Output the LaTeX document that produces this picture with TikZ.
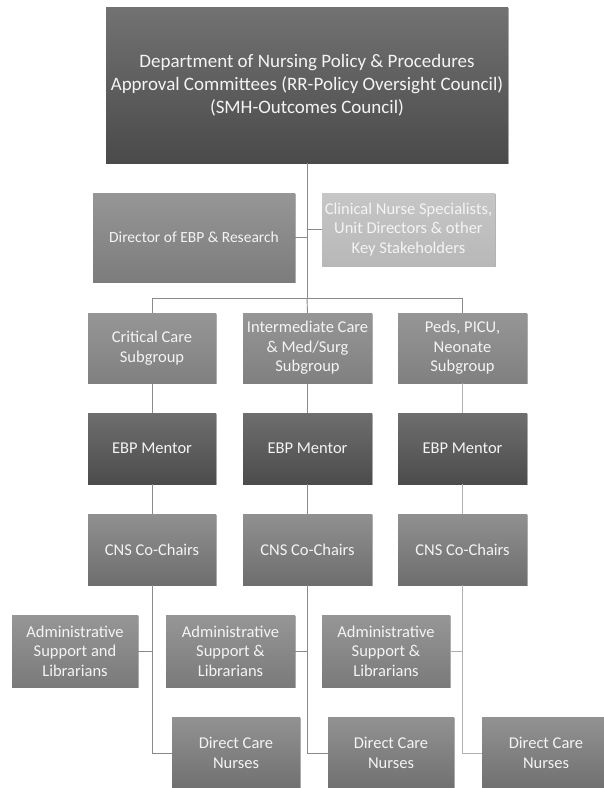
\documentclass[tikz,border=0pt]{standalone}
\usepackage{fontspec}
\setmainfont{Carlito}
\usetikzlibrary{shadows}

\definecolor{linkgray}{HTML}{8A8A8A}
\definecolor{linklight}{HTML}{B0B0B0}
\definecolor{boxtext}{HTML}{F4F4F4}

\tikzset{
  orgbox/.style={draw=none, inner sep=2pt, align=center, text=boxtext,
    font=\fontsize{16.5}{19.5}\selectfont,
    drop shadow={shadow xshift=1.2pt, shadow yshift=-1.2pt, opacity=0.3, fill=black}},
  topbox/.style={orgbox, top color={rgb,255:red,114;green,114;blue,114},
    bottom color={rgb,255:red,74;green,74;blue,74},
    font=\fontsize{19}{23}\selectfont},
  dirbox/.style={orgbox, top color={rgb,255:red,150;green,150;blue,150},
    bottom color={rgb,255:red,124;green,124;blue,124},
    font=\fontsize{15.5}{19.5}\selectfont},
  stakebox/.style={orgbox, top color={rgb,255:red,198;green,198;blue,198},
    bottom color={rgb,255:red,184;green,184;blue,184}},
  subbox/.style={orgbox, top color={rgb,255:red,150;green,150;blue,150},
    bottom color={rgb,255:red,128;green,128;blue,128}},
  mentorbox/.style={orgbox, top color={rgb,255:red,110;green,110;blue,110},
    bottom color={rgb,255:red,76;green,76;blue,76}},
  chairbox/.style={orgbox, top color={rgb,255:red,144;green,144;blue,144},
    bottom color={rgb,255:red,110;green,110;blue,110}},
  adminbox/.style={orgbox, top color={rgb,255:red,150;green,150;blue,150},
    bottom color={rgb,255:red,122;green,122;blue,122}},
  nursebox/.style={orgbox, top color={rgb,255:red,146;green,146;blue,146},
    bottom color={rgb,255:red,112;green,112;blue,112}},
  link/.style={draw=linkgray, line width=0.9pt},
  linkpale/.style={draw=linklight, line width=0.9pt}
}

\begin{document}
\begin{tikzpicture}[x=1pt, y=-1pt]
  \useasboundingbox (0,0) rectangle (604,788);
  \fill[white] (0,0) rectangle (604,788);
  \clip (0,0) rectangle (604,788);

  % committee at the top
  \node[topbox, minimum width=402pt, minimum height=156pt] (top) at (307,85)
    {Department of Nursing Policy \& Procedures\\
     Approval Committees (RR-Policy Oversight Council)\\
     (SMH-Outcomes Council)};

  % advisory level
  \node[dirbox, minimum width=202pt, minimum height=89pt] (dir) at (194,237.5)
    {Director of EBP \& Research};
  \node[stakebox, minimum width=173pt, minimum height=73pt] (stake) at (408.5,229.5)
    {Clinical Nurse Specialists,\\Unit Directors \& other\\Key Stakeholders};

  % subgroups
  \node[subbox, minimum width=128pt, minimum height=70pt] (sub1) at (152,348)
    {Critical Care\\Subgroup};
  \node[subbox, minimum width=129pt, minimum height=70pt] (sub2) at (307.5,348)
    {Intermediate Care\\\& Med/Surg\\Subgroup};
  \node[subbox, minimum width=129pt, minimum height=70pt] (sub3) at (462.5,348)
    {Peds, PICU,\\Neonate\\Subgroup};

  % mentors
  \node[mentorbox, minimum width=128pt, minimum height=71pt] (men1) at (152,448.5) {EBP Mentor};
  \node[mentorbox, minimum width=129pt, minimum height=71pt] (men2) at (307.5,448.5) {EBP Mentor};
  \node[mentorbox, minimum width=129pt, minimum height=71pt] (men3) at (462.5,448.5) {EBP Mentor};

  % co-chairs
  \node[chairbox, minimum width=128pt, minimum height=71pt] (ch1) at (152,549.5) {CNS Co-Chairs};
  \node[chairbox, minimum width=129pt, minimum height=71pt] (ch2) at (307.5,549.5) {CNS Co-Chairs};
  \node[chairbox, minimum width=129pt, minimum height=71pt] (ch3) at (462.5,549.5) {CNS Co-Chairs};

  % administrative support
  \node[adminbox, minimum width=126pt, minimum height=72pt] (adm1) at (75,651)
    {Administrative\\Support and\\Librarians};
  \node[adminbox, minimum width=129pt, minimum height=72pt] (adm2) at (230.5,651)
    {Administrative\\Support \&\\Librarians};
  \node[adminbox, minimum width=128pt, minimum height=72pt] (adm3) at (386,651)
    {Administrative\\Support \&\\Librarians};

  % direct care nurses
  \node[nursebox, minimum width=128pt, minimum height=72pt] (dc1) at (236,753)
    {Direct Care\\Nurses};
  \node[nursebox, minimum width=126pt, minimum height=72pt] (dc2) at (391,753)
    {Direct Care\\Nurses};
  \node[nursebox, minimum width=128pt, minimum height=72pt] (dc3) at (546,753)
    {Direct Care\\Nurses};

  % connectors
  \coordinate (bar) at (307,298);
  \draw[link] (top.south) -- (bar);
  \draw[link] (dir.east) -- (dir.east -| top.south);
  \draw[link] (stake.west) -- (stake.west -| top.south);
  \draw[link] (sub1.north) |- (bar);
  \draw[link] (bar) -| (sub3.north);
  \draw[link] (bar) -- (sub2.north);

  \draw[link] (sub1.south) -- (men1.north);
  \draw[link] (men1.south) -- (ch1.north);
  \draw[link] (ch1.south) |- (dc1.west);
  \draw[link] (adm1.east) -- (adm1.east -| ch1.south);

  \draw[link] (sub2.south) -- (men2.north);
  \draw[link] (men2.south) -- (ch2.north);
  \draw[link] (ch2.south) |- (dc2.west);
  \draw[link] (adm2.east) -- (adm2.east -| ch2.south);

  \draw[linkpale] (sub3.south) -- (men3.north);
  \draw[linkpale] (men3.south) -- (ch3.north);
  \draw[linkpale] (ch3.south) |- (dc3.west);
  \draw[linkpale] (adm3.east) -- (adm3.east -| ch3.south);
\end{tikzpicture}
\end{document}
